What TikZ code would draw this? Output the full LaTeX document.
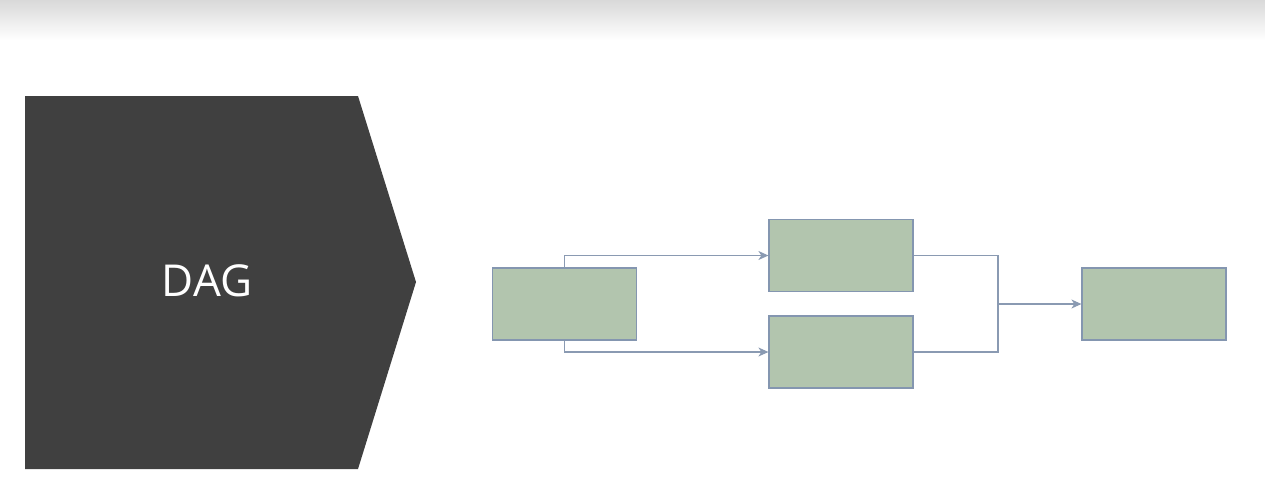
\documentclass[tikz,border=0pt]{standalone}
\usepackage{fontspec}
\setmainfont{Open Sans}
\usetikzlibrary{arrows.meta}
\definecolor{boxfill}{HTML}{B2C5AE}
\definecolor{boxline}{HTML}{8496B0}
\definecolor{conn}{HTML}{8A9AB2}
\definecolor{dark}{HTML}{404040}
\tikzset{
  box/.style={draw=boxline, fill=boxfill, line width=1.2pt, minimum width=144pt, minimum height=72pt, inner sep=0pt},
  link/.style={draw=conn, line width=1.1pt},
  arr/.style={link, -{Stealth[length=10pt,width=9pt,inset=3pt]}}
}
\begin{document}
\begin{tikzpicture}[x=1pt,y=-1pt]
\useasboundingbox (0,0) rectangle (1265,498);
\fill[white] (0,0) rectangle (1265,498);
\shade[top color=black!15, bottom color=white] (0,0) rectangle (1265,40);
\fill[dark] (25,96) -- (358,96) -- (416,282) -- (358,469) -- (25,469) -- cycle;
\node[text=white, font=\fontsize{44}{50}\selectfont] (dag) at (207,281) {DAG};
\node[box] (a) at (564.5,304) {};
\node[box] (b) at (841,255.5) {};
\node[box] (c) at (841,352) {};
\node[box] (d) at (1154,304) {};
\coordinate (j) at (998,304);
\draw[arr] (a.north) |- (b.west);
\draw[arr] (a.south) |- (c.west);
\draw[link] (b.east) -| (j);
\draw[link] (c.east) -| (j);
\draw[arr] (j) -- (d.west);
\end{tikzpicture}
\end{document}
